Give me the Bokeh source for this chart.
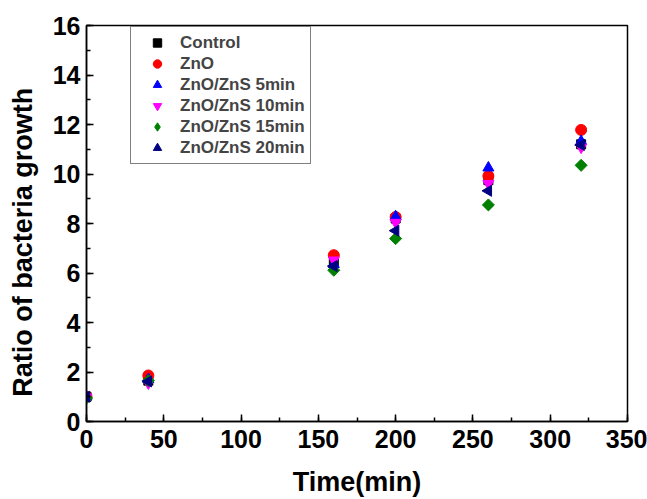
import numpy as np
from bokeh.plotting import figure
from bokeh.models import Legend, LegendItem, Range1d, FixedTicker
from bokeh.embed import file_html
from bokeh.resources import INLINE

time = [0, 40, 160, 200, 260, 320]
control = [1.0, 1.65, 6.40, 8.20, 9.75, 11.20]
zno = [1.0, 1.86, 6.72, 8.26, 9.92, 11.78]
zns5 = [1.0, 1.70, 6.35, 8.28, 10.25, 11.32]
zns10 = [0.98, 1.55, 6.52, 8.04, 9.61, 11.08]
zns15 = [0.95, 1.65, 6.11, 7.39, 8.75, 10.35]
zns20 = [1.0, 1.62, 6.28, 7.71, 9.32, 11.17]

# name, values, marker, colour, rotation (deg), size, legend stand-in marker
series = [
    ("Control", control, "square", "black", 0, 9, None),
    ("ZnO", zno, "circle", "red", 0, 11, None),
    ("ZnO/ZnS 5min", zns5, "triangle", "blue", 0, 11, None),
    ("ZnO/ZnS 10min", zns10, "inverted_triangle", "magenta", 0, 11, None),
    ("ZnO/ZnS 15min", zns15, "square", "green", 45, 8.5, "diamond"),
    ("ZnO/ZnS 20min", zns20, "triangle", "navy", 90, 11, "triangle"),
]

FONT = "Liberation Sans"

p = figure(width=647, height=499, output_backend="svg", toolbar_location=None,
           x_range=Range1d(0, 350), y_range=Range1d(0, 16),
           min_border_left=86, min_border_right=20, min_border_top=25, min_border_bottom=78)
p.background_fill_color = "white"
p.border_fill_color = "white"
p.grid.visible = False
p.outline_line_color = "black"
p.outline_line_width = 1.5

items = []
for name, ys, marker, color, ang, size, stand_in in series:
    r = p.scatter(time, ys, marker=marker, size=size,
                  fill_color=color, line_color=color,
                  angle=[ang] * len(time), angle_units="deg")
    if stand_in is None:
        items.append(LegendItem(label=name, renderers=[r]))
    else:
        # Bokeh never rotates legend glyphs: a zero-size stand-in on the same
        # data is invisible in the plot but draws a full legend symbol
        dummy = p.scatter(time, ys, marker=stand_in, size=0,
                          fill_color=color, line_color=color)
        items.append(LegendItem(label=name, renderers=[dummy]))

for ax in (p.xaxis[0], p.yaxis[0]):
    ax.axis_line_color = "black"
    ax.axis_line_width = 1.5
    ax.major_tick_in = 7
    ax.major_tick_out = 0
    ax.minor_tick_in = 4
    ax.minor_tick_out = 0
    ax.major_tick_line_width = 1.5
    ax.minor_tick_line_width = 1.5
    ax.major_label_text_font = FONT
    ax.major_label_text_font_style = "bold"
    ax.major_label_text_font_size = "25px"
    ax.major_label_text_color = "black"
    ax.axis_label_text_font = FONT
    ax.axis_label_text_font_style = "bold"
    ax.axis_label_text_color = "black"

p.xaxis.ticker = FixedTicker(ticks=list(range(0, 351, 50)), minor_ticks=list(range(0, 351, 25)))
p.yaxis.ticker = FixedTicker(ticks=list(range(0, 17, 2)), minor_ticks=list(range(0, 17, 1)))
p.xaxis.axis_label = "Time(min)"
p.xaxis.axis_label_text_font_size = "27px"
p.xaxis.major_label_standoff = 8
p.xaxis.axis_label_standoff = 16
# trailing no-break spaces push the visible title lower, as in the reference
p.yaxis.axis_label = "Ratio of bacteria growth" + "\u00a0" * 5
p.yaxis.axis_label_text_font_size = "27px"
p.yaxis.major_label_standoff = 6
p.yaxis.axis_label_standoff = 12

legend = Legend(items=items, location=(44, 257))
legend.border_line_color = "black"
legend.border_line_width = 1
legend.padding = 5
legend.margin = 0
legend.spacing = 0
legend.glyph_width = 42
legend.glyph_height = 21
legend.label_height = 21
legend.label_standoff = 2
legend.label_text_font = FONT
legend.label_text_font_style = "bold"
legend.label_text_font_size = "17px"
legend.background_fill_alpha = 1.0
p.add_layout(legend, "center")

open("out.html", "w").write(file_html(p, INLINE))
